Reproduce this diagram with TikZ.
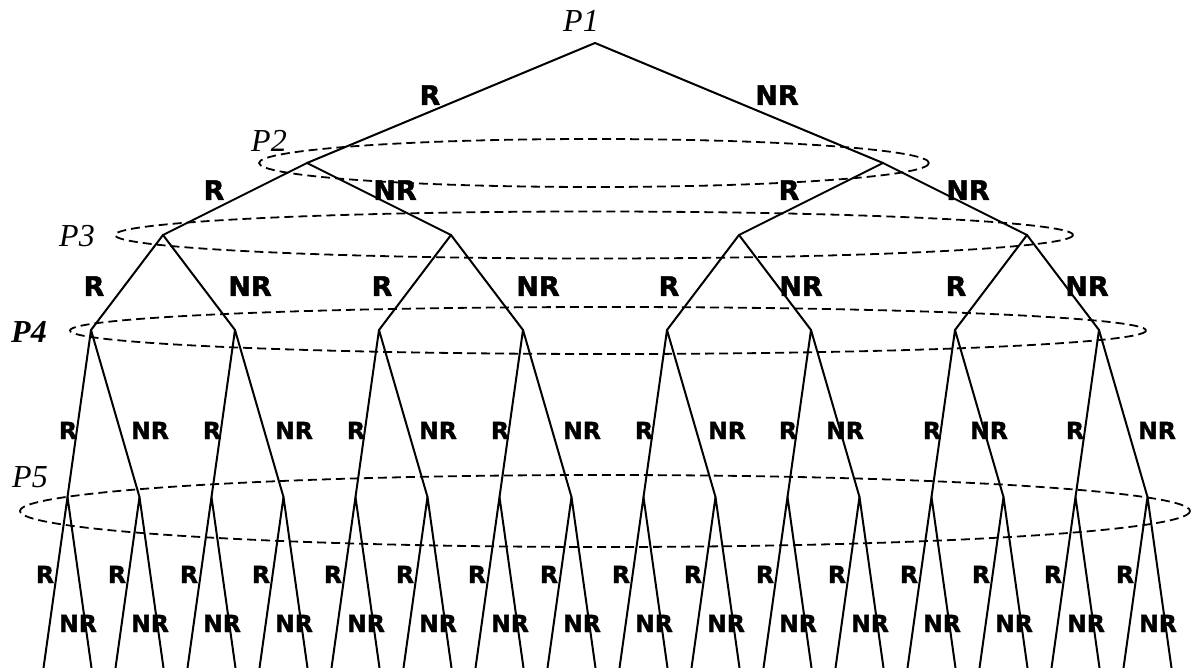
\documentclass[tikz,border=0pt]{standalone}
\usepackage{fontspec}
\newfontfamily\labfont{DejaVu Sans}[FakeBold=1.6]
\newfontfamily\pfont{Liberation Serif}
\begin{document}
\begin{tikzpicture}[x=1pt,y=-1pt,
  edge/.style={line width=2pt, line cap=round, line join=round},
  grp/.style={line width=1.8pt, dash pattern=on 9pt off 5pt},
  lbig/.style={anchor=base, inner sep=0pt, font=\labfont\bfseries\fontsize{27}{27}\selectfont},
  lsmall/.style={anchor=base, inner sep=0pt, font=\labfont\bfseries\fontsize{23.5}{23.5}\selectfont},
  plab/.style={anchor=base west, inner sep=0pt, font=\pfont\itshape\fontsize{32}{32}\selectfont}]
\useasboundingbox (0,0) rectangle (1192,668);
% information sets
\draw[grp] (594,163) ellipse [x radius=335, y radius=24];
\draw[grp] (594,235) ellipse [x radius=479, y radius=23.5];
\draw[grp] (608,330.5) ellipse [x radius=538, y radius=23.5];
\draw[grp] (605,511) ellipse [x radius=585, y radius=36];
% tree nodes
\coordinate (r) at (595,43);
\coordinate (a0) at (307,163);
\coordinate (a1) at (883,163);
\foreach \i in {0,...,3} \coordinate (b\i) at ({163+288*\i},235);
\foreach \i in {0,...,7} \coordinate (c\i) at ({91+144*\i},330);
\foreach \i in {0,...,15} {
  \coordinate (d\i) at ({67.5+72*\i},497);
  \coordinate (e\i l) at ({43.5+72*\i},668);
  \coordinate (e\i r) at ({91.5+72*\i},668);
}
% edges
\draw[edge] (a0) -- (r) -- (a1);
\foreach \i [evaluate=\i as \j using int(2*\i), evaluate=\i as \k using int(2*\i+1)] in {0,1}
  \draw[edge] (b\j) -- (a\i) -- (b\k);
\foreach \i [evaluate=\i as \j using int(2*\i), evaluate=\i as \k using int(2*\i+1)] in {0,...,3}
  \draw[edge] (c\j) -- (b\i) -- (c\k);
\foreach \i [evaluate=\i as \j using int(2*\i), evaluate=\i as \k using int(2*\i+1)] in {0,...,7}
  \draw[edge] (d\j) -- (c\i) -- (d\k);
\foreach \i in {0,...,15}
  \draw[edge] (e\i l) -- (d\i) -- (e\i r);
% player labels
\node[plab] (p1) at (563,32) {P1};
\node[plab] (p2) at (251,152) {P2};
\node[plab] (p3) at (59,247) {P3};
\node[plab, font=\pfont\bfseries\itshape\fontsize{32}{32}\selectfont] (p4) at (11,343) {P4};
\node[plab] (p5) at (12,487) {P5};
% action labels
\node[lbig] (l1r) at (430,105) {R};
\node[lbig] (l1n) at (777,105) {NR};
\foreach \x [count=\n] in {214,789} \node[lbig] (l2r\n) at (\x,200) {R};
\foreach \x [count=\n] in {395,968} \node[lbig] (l2n\n) at (\x,200) {NR};
\foreach \x [count=\n] in {94,382,669,956} \node[lbig] (l3r\n) at (\x,296) {R};
\foreach \x [count=\n] in {250,538,801,1087} \node[lbig] (l3n\n) at (\x,296) {NR};
\foreach \x [count=\n] in {68,212,356,500,644,788,932,1075} \node[lsmall] (l4r\n) at (\x,439) {R};
\foreach \x [count=\n] in {150,294,438,582,727,845,989,1157} \node[lsmall] (l4n\n) at (\x,439) {NR};
\foreach \i in {0,...,15} {
  \node[lsmall] (l5r\i) at ({45+72*\i},583) {R};
  \node[lsmall] (l5n\i) at ({78+72*\i},632) {NR};
}
\end{tikzpicture}
\end{document}
